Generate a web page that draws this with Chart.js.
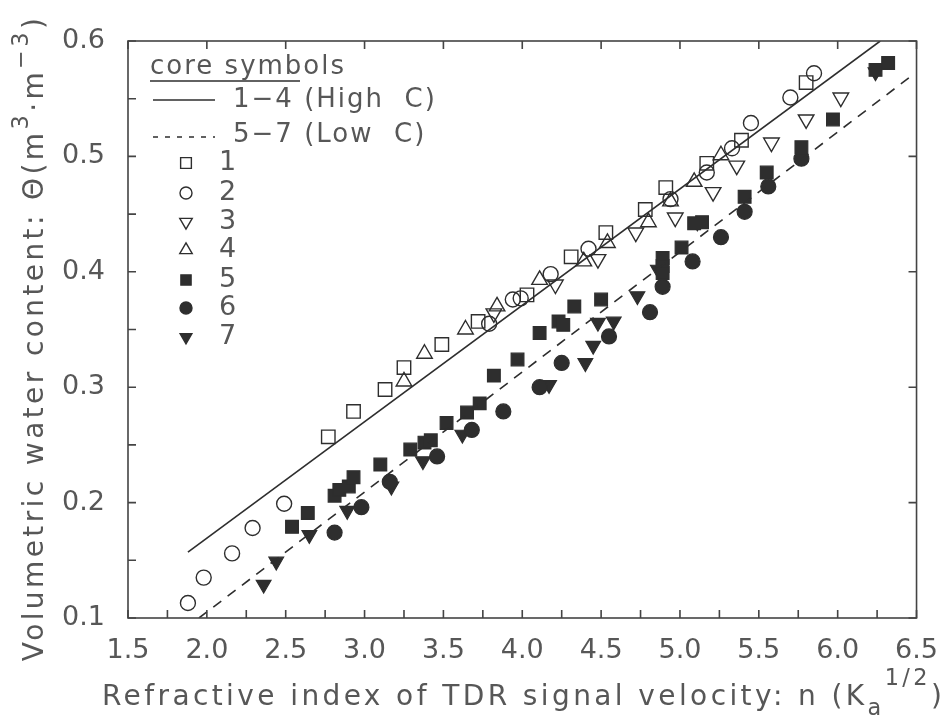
<!DOCTYPE html>
<html>
<head>
<meta charset="utf-8">
<script src="https://cdn.jsdelivr.net/npm/chart.js@4.4.1/dist/chart.umd.min.js"></script>
<style>
  html, body { margin: 0; padding: 0; background: #fff; }
  #wrap { width: 947px; height: 716px; }
</style>
</head>
<body>
<div id="wrap"><canvas id="tdrChart"></canvas></div>
<script>
// refractive index n vs volumetric water content
const core1 = [[2.77,0.257],[2.93,0.279],[3.13,0.298],[3.25,0.317],[3.49,0.337],[3.72,0.357],[4.03,0.380],[4.31,0.413],[4.53,0.434],[4.78,0.454],[4.91,0.473],[5.17,0.494],[5.39,0.514],[5.80,0.564]];
const core2 = [[1.88,0.113],[1.98,0.135],[2.16,0.156],[2.29,0.178],[2.49,0.199],[3.79,0.355],[3.94,0.376],[3.99,0.377],[4.18,0.398],[4.42,0.420],[4.94,0.463],[5.17,0.486],[5.33,0.507],[5.45,0.529],[5.70,0.551],[5.85,0.572]];
const core3 = [[3.82,0.364],[4.21,0.389],[4.48,0.411],[4.72,0.434],[4.97,0.447],[5.21,0.469],[5.36,0.492],[5.58,0.512],[5.80,0.532],[6.02,0.551]];
const core4 = [[3.25,0.305],[3.38,0.329],[3.64,0.350],[3.84,0.370],[4.11,0.393],[4.39,0.409],[4.54,0.425],[4.80,0.443],[4.94,0.461],[5.09,0.478],[5.26,0.501]];
const core5 = [[2.54,0.179],[2.64,0.191],[2.81,0.206],[2.84,0.211],[2.90,0.214],[2.93,0.222],[3.10,0.233],[3.29,0.246],[3.38,0.252],[3.42,0.254],[3.52,0.269],[3.65,0.278],[3.73,0.286],[3.82,0.310],[3.97,0.324],[4.11,0.347],[4.23,0.357],[4.26,0.354],[4.33,0.370],[4.50,0.376],[4.89,0.412],[4.89,0.405],[4.89,0.399],[5.01,0.421],[5.09,0.442],[5.14,0.443],[5.41,0.465],[5.55,0.486],[5.77,0.508],[5.97,0.532],[6.24,0.575],[6.32,0.581]];
const core6 = [[2.81,0.174],[2.98,0.196],[3.16,0.218],[3.46,0.240],[3.68,0.263],[3.88,0.279],[4.11,0.300],[4.25,0.321],[4.55,0.344],[4.81,0.365],[4.89,0.387],[5.08,0.409],[5.26,0.430],[5.41,0.452],[5.56,0.474],[5.77,0.498]];
const core7 = [[2.36,0.129],[2.44,0.149],[2.65,0.172],[2.89,0.193],[3.17,0.214],[3.37,0.236],[3.62,0.259],[4.17,0.302],[4.40,0.321],[4.45,0.336],[4.48,0.356],[4.58,0.357],[4.73,0.379],[4.86,0.402],[5.11,0.443],[6.24,0.573]];
const fitHighC = [[1.88,0.157],[6.27,0.600]];
const fitLowC = [[1.95,0.100],[6.46,0.569]];
const coreLabels = ['1','2','3','4','5','6','7'];
const fitLabels = ['1\u22124 (High  C)', '5\u22127 (Low  C)'];

const INK = '#2e2e2e';
const TEXT = '#575757';
const FONT = '"DejaVu Sans", sans-serif';

const toXY = arr => arr.map(p => ({ x: p[0], y: p[1] }));

const markerStyles = [
  { pointStyle: 'rect', radius: 9.5, rotation: 0, filled: false },
  { pointStyle: 'circle', radius: 7.5, rotation: 0, filled: false },
  { pointStyle: 'triangle', radius: 9, rotation: 180, filled: false },
  { pointStyle: 'triangle', radius: 9, rotation: 0, filled: false },
  { pointStyle: 'rect', radius: 9, rotation: 0, filled: true },
  { pointStyle: 'circle', radius: 7.5, rotation: 0, filled: true },
  { pointStyle: 'triangle', radius: 8.5, rotation: 180, filled: true }
];
const coreData = [core1, core2, core3, core4, core5, core6, core7];

const scatterSets = coreData.map((d, i) => {
  const m = markerStyles[i];
  return {
    label: coreLabels[i],
    data: toXY(d),
    pointStyle: m.pointStyle,
    pointRadius: m.radius,
    pointRotation: m.rotation,
    pointBorderWidth: m.filled ? 1.2 : 1.4,
    pointBorderColor: INK,
    pointBackgroundColor: m.filled ? INK : 'rgba(0,0,0,0)',
    showLine: false
  };
});

const lineSets = [
  { label: fitLabels[0], data: toXY(fitHighC), showLine: true, pointRadius: 0, borderColor: INK, borderWidth: 1.6 },
  { label: fitLabels[1], data: toXY(fitLowC), showLine: true, pointRadius: 0, borderColor: INK, borderWidth: 1.6, borderDash: [10, 8] }
];

// draw text pieces with sub/superscripts, starting at x on baseline y
function drawRich(ctx, parts, x, y, size) {
  let cx = x;
  parts.forEach(p => {
    const s = p.scale ? size * p.scale : size;
    ctx.font = s + 'px ' + FONT;
    ctx.fillText(p.t, cx, y + (p.dy || 0));
    cx += ctx.measureText(p.t).width;
  });
  return cx - x;
}
function measureRich(ctx, parts, size) {
  let w = 0;
  parts.forEach(p => {
    const s = p.scale ? size * p.scale : size;
    ctx.font = s + 'px ' + FONT;
    w += ctx.measureText(p.t).width;
  });
  return w;
}

const xTitle = [
  { t: 'Refractive index of TDR signal velocity: n (K' },
  { t: 'a', scale: 0.8, dy: 10 },
  { t: '1/2', scale: 0.8, dy: -20 },
  { t: ')' }
];
const yTitle = [
  { t: 'Volumetric water content: \u0398(m' },
  { t: '3', scale: 0.8, dy: -15 },
  { t: '\u00b7m' },
  { t: '\u22123', scale: 0.8, dy: -15 },
  { t: ')' }
];

const decor = {
  id: 'decor',
  beforeDraw(chart) {
    const ctx = chart.ctx;
    ctx.save();
    ctx.fillStyle = '#ffffff';
    ctx.fillRect(0, 0, chart.width, chart.height);
    ctx.restore();
  },
  afterDraw(chart) {
    const ctx = chart.ctx;
    const a = chart.chartArea;
    const xs = chart.scales.x, ys = chart.scales.y;
    ctx.save();
    // frame
    ctx.strokeStyle = '#444';
    ctx.lineWidth = 1.6;
    ctx.strokeRect(a.left, a.top, a.right - a.left, a.bottom - a.top);
    // inward ticks
    ctx.beginPath();
    for (let v = 1.5; v <= 6.501; v += 0.25) {
      const px = xs.getPixelForValue(v);
      ctx.moveTo(px, a.bottom); ctx.lineTo(px, a.bottom - 8);
      if (Math.abs(v * 2 - Math.round(v * 2)) < 0.01) { ctx.moveTo(px, a.top); ctx.lineTo(px, a.top + 8); }
    }
    for (let v = 0.1; v <= 0.6001; v += 0.05) {
      const py = ys.getPixelForValue(v);
      ctx.moveTo(a.left, py); ctx.lineTo(a.left + 8, py);
      if (Math.abs(v * 10 - Math.round(v * 10)) < 0.01) { ctx.moveTo(a.right, py); ctx.lineTo(a.right - 8, py); }
    }
    ctx.stroke();

    // legend
    ctx.fillStyle = TEXT;
    ctx.strokeStyle = INK;
    ctx.textBaseline = 'middle';
    ctx.letterSpacing = '2px';
    ctx.font = '26px ' + FONT;
    ctx.fillText('core symbols', 150, 67);
    ctx.lineWidth = 1.4;
    ctx.beginPath(); ctx.moveTo(150, 81); ctx.lineTo(300, 81); ctx.stroke();
    ctx.beginPath(); ctx.moveTo(153, 100); ctx.lineTo(215, 100); ctx.stroke();
    ctx.setLineDash([5, 7]);
    ctx.beginPath(); ctx.moveTo(153, 137); ctx.lineTo(215, 137); ctx.stroke();
    ctx.setLineDash([]);
    ctx.fillText(fitLabels[0], 233, 100);
    ctx.fillText(fitLabels[1], 233, 135);
    const rowY = [163, 193, 222, 250, 280, 308, 337];
    coreLabels.forEach((lab, i) => {
      const m = markerStyles[i];
      ctx.fillStyle = m.filled ? INK : 'rgba(0,0,0,0)';
      ctx.strokeStyle = INK;
      ctx.lineWidth = 1.4;
      Chart.helpers.drawPoint(ctx, { pointStyle: m.pointStyle, radius: m.radius * 0.8, rotation: m.rotation, borderWidth: 1.4 }, 186, rowY[i]);
      ctx.fillStyle = TEXT;
      ctx.font = '27px ' + FONT;
      ctx.fillText(lab, 219, rowY[i]);
    });

    // axis titles
    ctx.fillStyle = TEXT;
    ctx.textBaseline = 'alphabetic';
    ctx.textAlign = 'left';
    ctx.letterSpacing = '3.4px';
    const size = 28;
    drawRich(ctx, xTitle, 102, 705, size);
    const yw = measureRich(ctx, yTitle, size);
    ctx.translate(43, 338);
    ctx.rotate(-Math.PI / 2);
    drawRich(ctx, yTitle, -yw / 2, 0, size);
    ctx.restore();
  }
};

new Chart(document.getElementById('tdrChart'), {
  type: 'scatter',
  data: { datasets: [...lineSets, ...scatterSets] },
  options: {
    responsive: true,
    maintainAspectRatio: false,
    animation: false,
    layout: { padding: { top: 41, right: 5, left: 0, bottom: 0 } },
    plugins: { legend: { display: false }, tooltip: { enabled: false } },
    scales: {
      x: {
        type: 'linear', min: 1.5, max: 6.5,
        grid: { display: false }, border: { display: false },
        ticks: { stepSize: 0.5, padding: 9, color: TEXT, font: { family: FONT, size: 27 },
          callback: v => v.toFixed(1) },
        afterFit: s => { s.height = 98; }
      },
      y: {
        type: 'linear', min: 0.1, max: 0.6,
        grid: { display: false }, border: { display: false },
        ticks: { stepSize: 0.1, padding: 15, color: TEXT, font: { family: FONT, size: 27 },
          callback: v => v.toFixed(1) },
        afterFit: s => { s.width = 128; }
      }
    }
  },
  plugins: [decor]
});
</script>
</body>
</html>
